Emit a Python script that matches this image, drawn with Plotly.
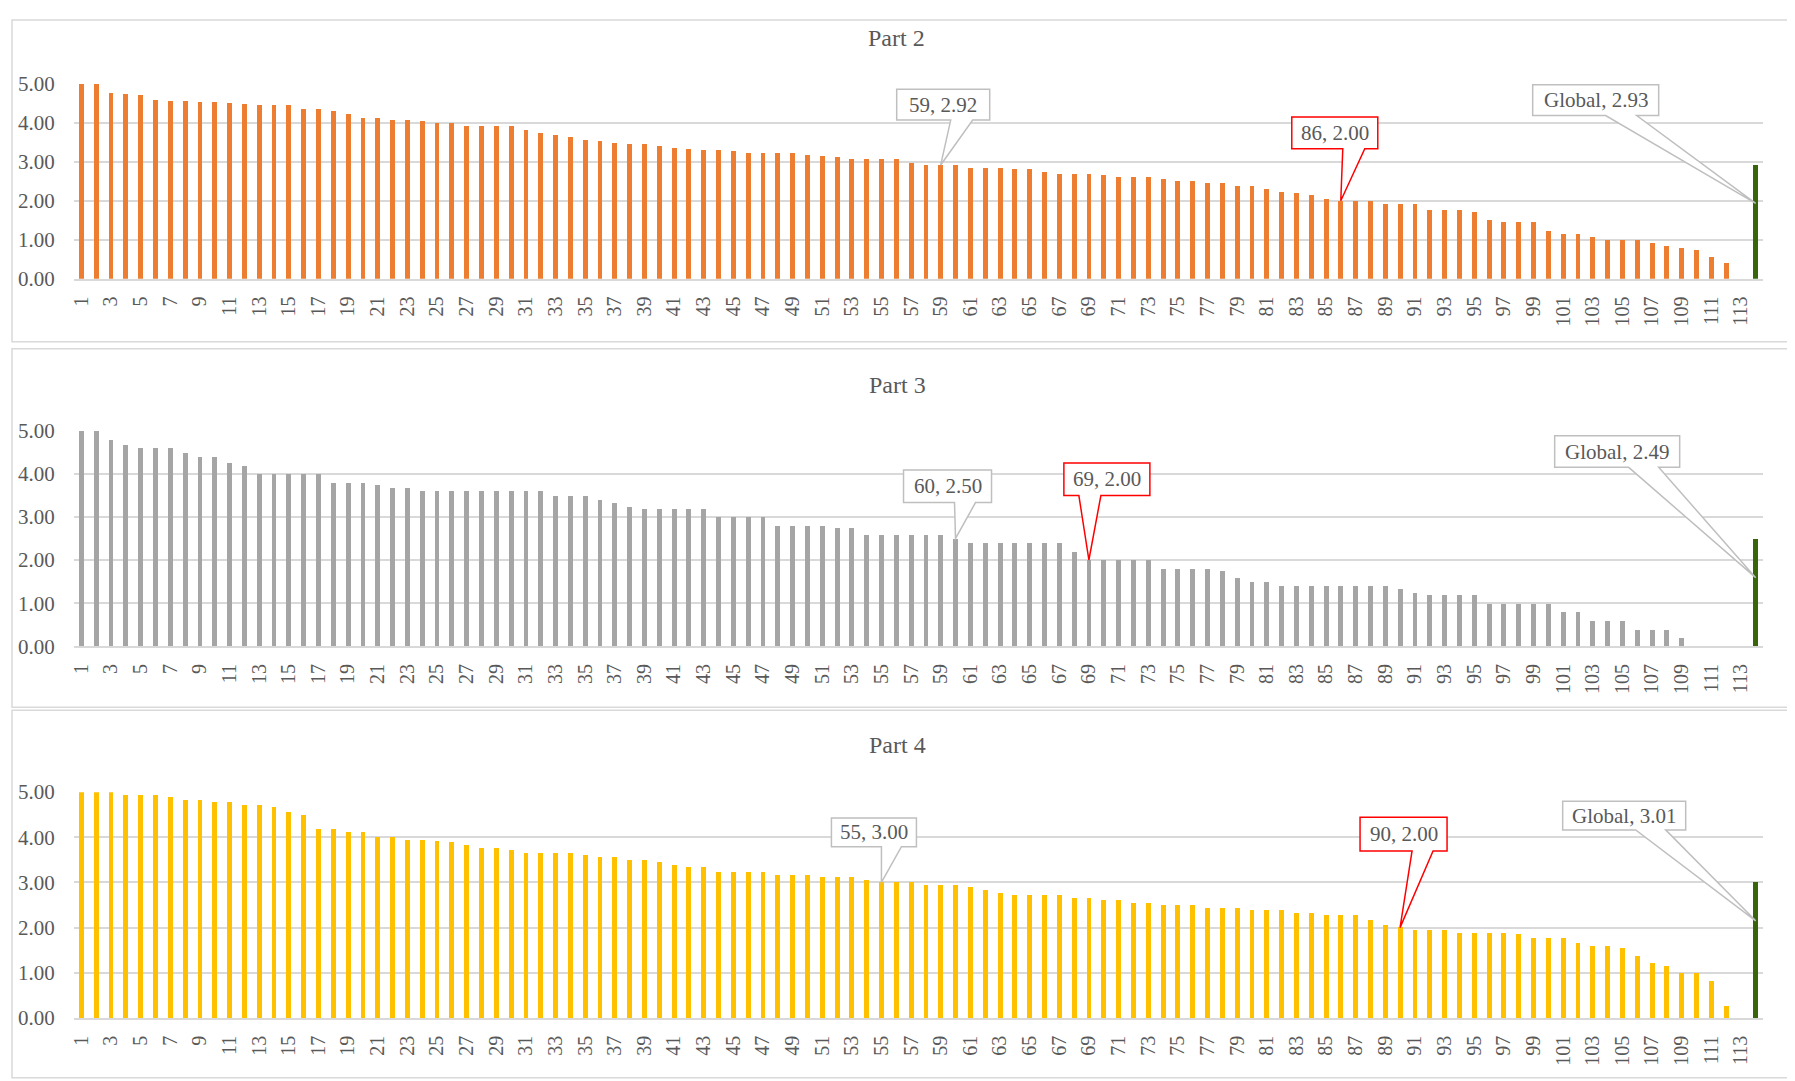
import plotly.graph_objects as go

W, H = 1795, 1086
# the rendered page lands slightly shifted and squeezed vertically, so positions are
# designed in reference pixels and mapped into figure pixels
SHIFT_X, SHIFT_Y, SCALE_Y = 11, 20, 0.979

FONT = "Liberation Serif"
TEXT = "#595959"
GRID = "#D9D9D9"
CALLOUT_GRAY = "#BFBFBF"
CALLOUT_RED = "#FF0000"
GLOBAL_GREEN = "#38640A"

CATEGORIES = [str(i) for i in range(1, 114)] + ["Global"]

PART2 = [
    5.00, 5.00, 4.76, 4.74, 4.72, 4.60, 4.57, 4.57, 4.53, 4.53,
    4.52, 4.49, 4.45, 4.45, 4.45, 4.37, 4.37, 4.30, 4.24, 4.14,
    4.14, 4.08, 4.07, 4.05, 4.00, 4.00, 3.92, 3.92, 3.92, 3.91,
    3.82, 3.73, 3.68, 3.65, 3.55, 3.53, 3.49, 3.45, 3.45, 3.42,
    3.37, 3.32, 3.30, 3.30, 3.29, 3.22, 3.22, 3.22, 3.22, 3.19,
    3.16, 3.13, 3.07, 3.07, 3.07, 3.07, 2.98, 2.92, 2.92, 2.92,
    2.84, 2.84, 2.84, 2.82, 2.82, 2.73, 2.68, 2.68, 2.68, 2.66,
    2.61, 2.61, 2.61, 2.56, 2.52, 2.52, 2.45, 2.45, 2.38, 2.37,
    2.30, 2.24, 2.21, 2.15, 2.06, 2.00, 2.00, 2.00, 1.92, 1.92,
    1.92, 1.76, 1.76, 1.76, 1.71, 1.52, 1.45, 1.45, 1.45, 1.22,
    1.14, 1.14, 1.06, 1.00, 1.00, 1.00, 0.92, 0.83, 0.78, 0.75,
    0.56, 0.40, None,
]
PART3 = [
    5.00, 5.00, 4.80, 4.67, 4.60, 4.60, 4.60, 4.50, 4.40, 4.40,
    4.25, 4.20, 4.00, 4.00, 4.00, 4.00, 4.00, 3.80, 3.80, 3.80,
    3.75, 3.67, 3.67, 3.60, 3.60, 3.60, 3.60, 3.60, 3.60, 3.60,
    3.60, 3.60, 3.50, 3.50, 3.50, 3.40, 3.33, 3.25, 3.20, 3.20,
    3.20, 3.20, 3.20, 3.00, 3.00, 3.00, 3.00, 2.80, 2.80, 2.80,
    2.80, 2.75, 2.75, 2.60, 2.60, 2.60, 2.60, 2.60, 2.60, 2.50,
    2.40, 2.40, 2.40, 2.40, 2.40, 2.40, 2.40, 2.20, 2.00, 2.00,
    2.00, 2.00, 2.00, 1.80, 1.80, 1.80, 1.80, 1.75, 1.60, 1.50,
    1.50, 1.40, 1.40, 1.40, 1.40, 1.40, 1.40, 1.40, 1.40, 1.33,
    1.25, 1.20, 1.20, 1.20, 1.20, 1.00, 1.00, 1.00, 1.00, 1.00,
    0.80, 0.80, 0.60, 0.60, 0.60, 0.40, 0.40, 0.40, 0.20, None,
    None, None, None,
]
PART4 = [
    5.00, 5.00, 5.00, 4.94, 4.94, 4.94, 4.89, 4.83, 4.83, 4.78,
    4.78, 4.72, 4.72, 4.67, 4.55, 4.50, 4.17, 4.17, 4.11, 4.11,
    4.00, 4.00, 3.94, 3.94, 3.92, 3.89, 3.83, 3.77, 3.77, 3.72,
    3.66, 3.66, 3.66, 3.66, 3.61, 3.55, 3.55, 3.49, 3.49, 3.44,
    3.38, 3.33, 3.33, 3.22, 3.22, 3.22, 3.22, 3.16, 3.16, 3.16,
    3.11, 3.11, 3.11, 3.05, 3.00, 3.00, 3.00, 2.94, 2.94, 2.94,
    2.89, 2.83, 2.77, 2.72, 2.72, 2.72, 2.72, 2.66, 2.66, 2.60,
    2.60, 2.55, 2.55, 2.50, 2.50, 2.50, 2.44, 2.44, 2.44, 2.38,
    2.38, 2.38, 2.33, 2.33, 2.27, 2.27, 2.27, 2.16, 2.05, 2.00,
    1.94, 1.94, 1.94, 1.88, 1.88, 1.88, 1.87, 1.86, 1.76, 1.76,
    1.76, 1.66, 1.60, 1.60, 1.55, 1.37, 1.21, 1.15, 1.00, 1.00,
    0.82, 0.25, None,
]
GLOBAL = [2.93, 2.49, 3.01]
TITLES = ["Part 2", "Part 3", "Part 4"]
BAR_COLORS = ["#ED7D31", "#A5A5A5", "#FFC000"]
# highlighted items per part: (median-ish item, first item at 2.00)
MARKED = [("59", "86"), ("60", "69"), ("55", "90")]

# reference-pixel layout of each panel: frame box, plot top (5.00) and bottom (0.00), title y
PANELS = [
    dict(frame=(2, 2, 1792, 342), top=84, bottom=279, title=38),
    dict(frame=(3, 349, 1794, 708), top=431, bottom=647, title=385),
    dict(frame=(3, 711, 1794, 1079), top=793, bottom=1019, title=746),
]
PLOT_LEFT, PLOT_RIGHT = 73, 1766

# callout geometry in pixels relative to the bar top: box (left, right, bottom, top), wedge base, tip dy
CALLOUTS = [
    [dict(box=(-44, 49, 44, 74), base=(10, 32), tip=0, color=CALLOUT_GRAY),
     dict(box=(-49, 37, 51, 82), base=(2, 24), tip=0, color=CALLOUT_RED),
     dict(box=(-223, -97, 48, 78), base=(-150, -119), tip=-38, color=CALLOUT_GRAY)],
    [dict(box=(-52, 36, 35, 67), base=(-1, 20), tip=0, color=CALLOUT_GRAY),
     dict(box=(-25, 61, 63, 95), base=(-10, 12), tip=0, color=CALLOUT_RED),
     dict(box=(-201, -76, 70, 101), base=(-127, -97), tip=-38, color=CALLOUT_GRAY)],
    [dict(box=(-50, 35, 35, 63), base=(0, 20), tip=0, color=CALLOUT_GRAY),
     dict(box=(-40, 47, 75, 108), base=(12, 33), tip=0, color=CALLOUT_RED),
     dict(box=(-193, -70, 51, 79), base=(-120, -90), tip=-38, color=CALLOUT_GRAY)],
]


def px(x):
    return min(max((x - SHIFT_X) / W, 0), 1)


def py(y):
    return min(max(1 - (y - SHIFT_Y) / SCALE_Y / H, 0), 1)


def add_callout(fig, xref, yref, x, y, text, style):
    l, r, b, t = style["box"]
    b, t, tip = b / SCALE_Y, t / SCALE_Y, style["tip"] / SCALE_Y
    bl, br = style["base"]
    path = f"M{l},{t:.1f} L{r},{t:.1f} L{r},{b:.1f} L{br},{b:.1f} L0,{tip:.1f} L{bl},{b:.1f} L{l},{b:.1f} Z"
    fig.add_shape(type="path", path=path, xref=xref, yref=yref,
                  xsizemode="pixel", ysizemode="pixel", xanchor=x, yanchor=y,
                  line=dict(color=style["color"], width=1.5), fillcolor="white", layer="above")
    fig.add_annotation(x=x, y=y, xref=xref, yref=yref, text=text, showarrow=False,
                       xanchor="center", yanchor="middle",
                       xshift=(l + r) / 2, yshift=(b + t) / 2,
                       font=dict(family=FONT, size=21, color=TEXT))


fig = go.Figure()
positions = list(range(1, len(CATEGORIES) + 1))
odd_ticks = [p for p, c in zip(positions, CATEGORIES) if c.isdigit() and int(c) % 2 == 1]

for i, (values, glob, color) in enumerate(zip([PART2, PART3, PART4], GLOBAL, BAR_COLORS)):
    n = "" if i == 0 else str(i + 1)
    xref, yref = "x" + n, "y" + n
    ys = values + [glob]
    colors = [color] * len(values) + [GLOBAL_GREEN]
    fig.add_trace(go.Bar(x=positions, y=ys, marker=dict(color=colors, line=dict(width=0)),
                         width=0.33, xaxis=xref, yaxis=yref, showlegend=False,
                         hovertemplate="%{x}: %{y:.2f}<extra></extra>"))
    p = PANELS[i]
    fig.update_layout({
        "xaxis" + n: dict(domain=[px(PLOT_LEFT), px(PLOT_RIGHT)], anchor=yref, range=[0.5, len(CATEGORIES) + 0.5],
                          tickvals=odd_ticks, ticktext=[CATEGORIES[v - 1] for v in odd_ticks],
                          tickangle=-90, showgrid=False, zeroline=False, showline=True,
                          linecolor=GRID, linewidth=1.5, ticks="", ticklabelstandoff=8,
                          tickfont=dict(family=FONT, size=20, color=TEXT)),
        "yaxis" + n: dict(domain=[py(p["bottom"]), py(p["top"])], anchor=xref, range=[0, 5],
                          tickvals=[0, 1, 2, 3, 4, 5], tickformat=".2f", showgrid=True,
                          gridcolor=GRID, gridwidth=1.5, zeroline=False, showline=False,
                          ticks="", ticklabelstandoff=18,
                          tickfont=dict(family=FONT, size=21, color=TEXT)),
    })
    x0, y0, x1, y1 = p["frame"]
    fig.add_shape(type="rect", xref="paper", yref="paper", x0=px(x0), x1=px(x1), y0=py(y0), y1=py(y1),
                  line=dict(color=GRID, width=1.5), layer="below")
    fig.add_annotation(xref="paper", yref="paper", x=px((x0 + x1) / 2), y=py(p["title"]),
                       xanchor="center", yanchor="middle",
                       text=TITLES[i], showarrow=False, font=dict(family=FONT, size=24, color=TEXT))

    styles = CALLOUTS[i]
    for key, style in zip(MARKED[i], styles[:2]):
        pos = CATEGORIES.index(key) + 1
        val = values[pos - 1]
        add_callout(fig, xref, yref, pos, val, f"{key}, {val:.2f}", style)
    gpos = CATEGORIES.index("Global") + 1
    add_callout(fig, xref, yref, gpos, glob, f"Global, {glob:.2f}", styles[2])

fig.update_layout(width=W, height=H, margin=dict(l=0, r=0, t=0, b=0),
                  paper_bgcolor="white", plot_bgcolor="white", bargap=0)
fig.write_html("out.html")
